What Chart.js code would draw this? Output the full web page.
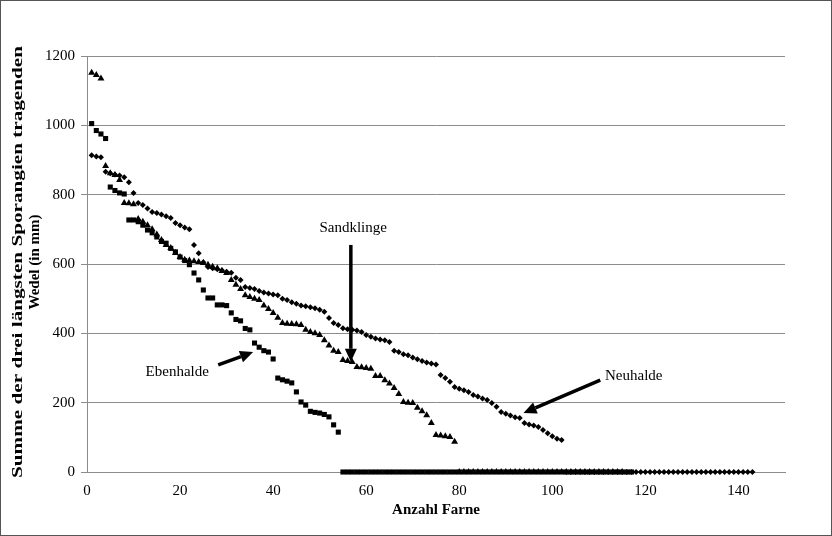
<!DOCTYPE html>
<html>
<head>
<meta charset="utf-8">
<script src="https://cdn.jsdelivr.net/npm/chart.js@4/dist/chart.umd.min.js"></script>
<style>
  body { margin: 0; background: #fff; }
  #wrap { width: 832px; height: 536px; box-sizing: border-box; border: 1px solid #555; }
</style>
</head>
<body>
<div id="wrap"><canvas id="chart" width="830" height="534"></canvas></div>
<script>
// values sorted from largest to smallest, x = rank of the fern
const ebenhalde = [1005, 985, 975, 962, 822, 812, 805, 802, 727, 727, 722, 712, 698, 690, 678,
  665, 660, 645, 635, 620, 610, 598, 574, 554, 525, 502, 502, 482, 482, 480, 459, 440, 436, 414,
  410, 372, 360, 350, 346, 326, 271, 266, 262, 257, 231, 202, 193, 175, 172, 170, 166, 159, 136, 115];
const sandklinge = [1152, 1145, 1135, 883, 862, 857, 842, 776, 775, 772, 730, 722, 712, 700, 685,
  669, 655, 646, 632, 620, 612, 610, 608, 606, 603, 598, 592, 588, 580, 574, 554, 540, 528, 510,
  505, 500, 496, 480, 470, 459, 445, 430, 428, 427, 426, 424, 410, 404, 400, 395, 380, 365, 350,
  346, 323, 320, 317, 303, 302, 300, 298, 277, 277, 265, 255, 242, 225, 202, 200, 199, 185, 175,
  164, 141, 107, 105, 103, 101, 87];
const neuhalde = [914, 910, 908, 866, 862, 858, 855, 850, 836, 805, 776, 770, 760, 750, 747, 743,
  738, 733, 718, 712, 705, 700, 655, 631, 605, 591, 588, 585, 582, 578, 575, 560, 554, 534, 531,
  528, 522, 518, 515, 512, 510, 500, 496, 490, 485, 480, 478, 475, 472, 468, 462, 444, 430, 424,
  415, 412, 410, 408, 404, 395, 390, 385, 382, 380, 375, 350, 346, 340, 337, 330, 325, 320, 316,
  313, 310, 280, 271, 260, 245, 240, 236, 231, 222, 218, 212, 208, 199, 188, 173, 168, 163, 158,
  156, 141, 137, 134, 130, 121, 112, 103, 96, 92];
// ferns without sporangia bearing fronds (value 0)
const ebenhaldeZeros = 63;
const sandklingeZeros = 36;
const neuhaldeZeros = 41;

const xTicks = [0, 20, 40, 60, 80, 100, 120, 140];
const yTicks = [0, 200, 400, 600, 800, 1000, 1200];

const yTitle = ['Summe der drei längsten Sporangien tragenden', 'Wedel (in mm)'];

const notes = [
  { text: 'Sandklinge', at: [57.2, 704], from: [56.7, 655], to: [56.7, 318] },
  { text: 'Ebenhalde', at: [19.4, 288], from: [28.2, 309], to: [35.7, 346] },
  { text: 'Neuhalde', at: [117.5, 277], from: [110.3, 265], to: [93.8, 170] }
];

function toPoints(values, zeros) {
  const all = values.concat(new Array(zeros).fill(0));
  return all.map((v, i) => ({ x: i + 1, y: v }));
}

const serif = '"Liberation Serif", "Times New Roman", serif';

const arrowPlugin = {
  id: 'arrows',
  afterDatasetsDraw(chart) {
    const { ctx, scales: { x, y } } = chart;
    ctx.save();
    ctx.fillStyle = '#000';
    ctx.strokeStyle = '#000';
    ctx.font = '15px ' + serif;
    ctx.textAlign = 'center';
    ctx.textBaseline = 'middle';
    notes.forEach(n => {
      ctx.fillText(n.text, x.getPixelForValue(n.at[0]), y.getPixelForValue(n.at[1]));
      const x1 = x.getPixelForValue(n.from[0]), y1 = y.getPixelForValue(n.from[1]);
      const x2 = x.getPixelForValue(n.to[0]), y2 = y.getPixelForValue(n.to[1]);
      const ang = Math.atan2(y2 - y1, x2 - x1);
      const head = 13, wide = 6;
      const bx = x2 - head * Math.cos(ang), by = y2 - head * Math.sin(ang);
      ctx.lineWidth = 3.5;
      ctx.beginPath();
      ctx.moveTo(x1, y1);
      ctx.lineTo(bx, by);
      ctx.stroke();
      ctx.beginPath();
      ctx.moveTo(x2, y2);
      ctx.lineTo(bx + wide * Math.sin(ang), by - wide * Math.cos(ang));
      ctx.lineTo(bx - wide * Math.sin(ang), by + wide * Math.cos(ang));
      ctx.closePath();
      ctx.fill();
    });
    ctx.restore();
  }
};

// y axis title: first line runs the full height of the axis as in the original
const yTitlePlugin = {
  id: 'yTitle',
  afterDraw(chart) {
    const { ctx, chartArea } = chart;
    const cy = (chartArea.top + chartArea.bottom) / 2 - 2;
    const lineX = [17, 34];
    const lineLen = [432, 0];
    ctx.save();
    ctx.font = 'bold 15px ' + serif;
    ctx.fillStyle = '#000';
    ctx.textAlign = 'center';
    ctx.textBaseline = 'middle';
    yTitle.forEach((line, i) => {
      ctx.save();
      ctx.translate(lineX[i], cy);
      ctx.rotate(-Math.PI / 2);
      if (lineLen[i]) ctx.scale(lineLen[i] / ctx.measureText(line).width, 1);
      ctx.fillText(line, 0, 0);
      ctx.restore();
    });
    ctx.restore();
  }
};

function loadChart() {
  const ctx = document.getElementById('chart').getContext('2d');
  new Chart(ctx, {
    type: 'scatter',
    data: {
      datasets: [
        {
          label: 'Ebenhalde',
          data: toPoints(ebenhalde, ebenhaldeZeros),
          pointStyle: 'rect',
          radius: 3.6,
          backgroundColor: '#000',
          borderColor: '#000',
          borderWidth: 0,
          clip: false,
        },
        {
          label: 'Sandklinge',
          data: toPoints(sandklinge, sandklingeZeros),
          pointStyle: 'triangle',
          radius: 4,
          backgroundColor: '#000',
          borderColor: '#000',
          borderWidth: 0,
          clip: false,
        },
        {
          label: 'Neuhalde',
          data: toPoints(neuhalde, neuhaldeZeros),
          pointStyle: 'rectRot',
          radius: 3,
          backgroundColor: '#000',
          borderColor: '#000',
          borderWidth: 0,
          clip: false,
        },
      ],
    },
    options: {
      responsive: false,
      animation: false,
      layout: { padding: { left: 0, right: 46, top: 55, bottom: 16 } },
      plugins: {
        legend: { display: false },
        tooltip: { enabled: false },
      },
      scales: {
        x: {
          type: 'linear',
          min: 0,
          max: 150,
          afterBuildTicks: (scale) => { scale.ticks = xTicks.map(v => ({ value: v })); },
          ticks: { color: '#000', font: { family: serif, size: 15 }, padding: 10, callback: v => String(v) },
          grid: { display: false, drawTicks: false },
          border: { display: true, color: '#8c8c8c', width: 1 },
          title: {
            display: true,
            text: 'Anzahl Farne',
            color: '#000',
            font: { family: serif, size: 15, weight: 'bold' },
            padding: { top: 0, bottom: 0 },
          },
          afterFit: (scale) => { scale.height = 47; },
        },
        y: {
          min: 0,
          max: 1200,
          afterBuildTicks: (scale) => { scale.ticks = yTicks.map(v => ({ value: v })); },
          ticks: { color: '#000', font: { family: serif, size: 15 }, padding: 6, callback: v => String(v) },
          grid: { color: '#8c8c8c', lineWidth: 1, tickLength: 6 },
          border: { display: true, color: '#8c8c8c', width: 1 },
          afterFit: (scale) => { scale.width = 86; },
        },
      },
    },
    plugins: [arrowPlugin, yTitlePlugin],
  });
}

window.onload = loadChart;
</script>
</body>
</html>
